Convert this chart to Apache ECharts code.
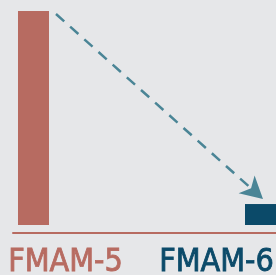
<!DOCTYPE html>
<html>
<head>
<meta charset="utf-8">
<script src="https://cdn.jsdelivr.net/npm/echarts@6/dist/echarts.min.js"></script>
<style>
  html, body { margin: 0; padding: 0; background: #e6e7e9; }
  #chart { width: 276px; height: 275px; }
</style>
</head>
<body>
<div id="chart"></div>
<script>
const categories = ['FMAM-5', 'FMAM-6'];
const values = [100, 9.8];
const barColors = ['#b76b61', '#0b4a69'];

const positions = categories.map((c, i) => i);
const font = '"DejaVu Sans Condensed", sans-serif';

function drawArrow(params, api) {
  const a = api.coord([api.value(0), api.value(1)]);
  const b = api.coord([api.value(2), api.value(3)]);
  // start just right of the first bar's top, end just above the second bar
  const s = [a[0] + 22.5, a[1] + 3];
  const e = [b[0] + 2.5, b[1] - 5];
  const dx = e[0] - s[0], dy = e[1] - s[1];
  const len = Math.sqrt(dx * dx + dy * dy);
  const u = [dx / len, dy / len];
  const n = [-u[1], u[0]];
  const L = 22, W = 12, notch = 6;
  const base = [e[0] - L * u[0], e[1] - L * u[1]];
  const mid = [e[0] - (L - notch) * u[0], e[1] - (L - notch) * u[1]];
  const color = '#4a8596';
  return {
    type: 'group',
    children: [
      {
        type: 'line',
        shape: {x1: s[0], y1: s[1], x2: mid[0], y2: mid[1]},
        style: {stroke: color, lineWidth: 2.5, lineDash: [11, 8]}
      },
      {
        type: 'polygon',
        shape: {points: [e, [base[0] + W * n[0], base[1] + W * n[1]], mid, [base[0] - W * n[0], base[1] - W * n[1]]]},
        style: {fill: color}
      }
    ]
  };
}

const chart = echarts.init(document.getElementById('chart'));
chart.setOption({
  backgroundColor: '#e6e7e9',
  animation: false,
  grid: {left: 13, right: 0, top: 11, bottom: 50, outerBoundsMode: 'none', containLabel: false},
  xAxis: {
    type: 'value',
    min: -0.0903,
    max: 1.0683,
    offset: 8,
    splitLine: {show: false},
    axisTick: {show: false},
    axisLine: {show: true, onZero: false, lineStyle: {color: barColors[0], width: 2}},
    axisLabel: {
      customValues: positions,
      margin: 14,
      formatter: v => '{c' + v + '|' + categories[v] + '}',
      rich: {
        c0: {color: barColors[0], fontSize: 32, fontFamily: font, padding: [0, 0, 0, 64],
             textBorderColor: barColors[0], textBorderWidth: 0.8},
        c1: {color: barColors[1], fontSize: 32, fontFamily: font, padding: [0, 88, 0, 0],
             textBorderColor: barColors[1], textBorderWidth: 0.8}
      }
    }
  },
  yAxis: {type: 'value', min: 0, max: 100, show: false},
  series: [
    {
      type: 'bar',
      barWidth: 31,
      data: positions.map(i => ({value: [i, values[i]], itemStyle: {color: barColors[i]}}))
    },
    {
      type: 'custom',
      clip: false,
      renderItem: drawArrow,
      encode: {x: [0, 2], y: [1, 3]},
      data: [[positions[0], values[0], positions[1], values[1]]]
    }
  ]
});
</script>
</body>
</html>
